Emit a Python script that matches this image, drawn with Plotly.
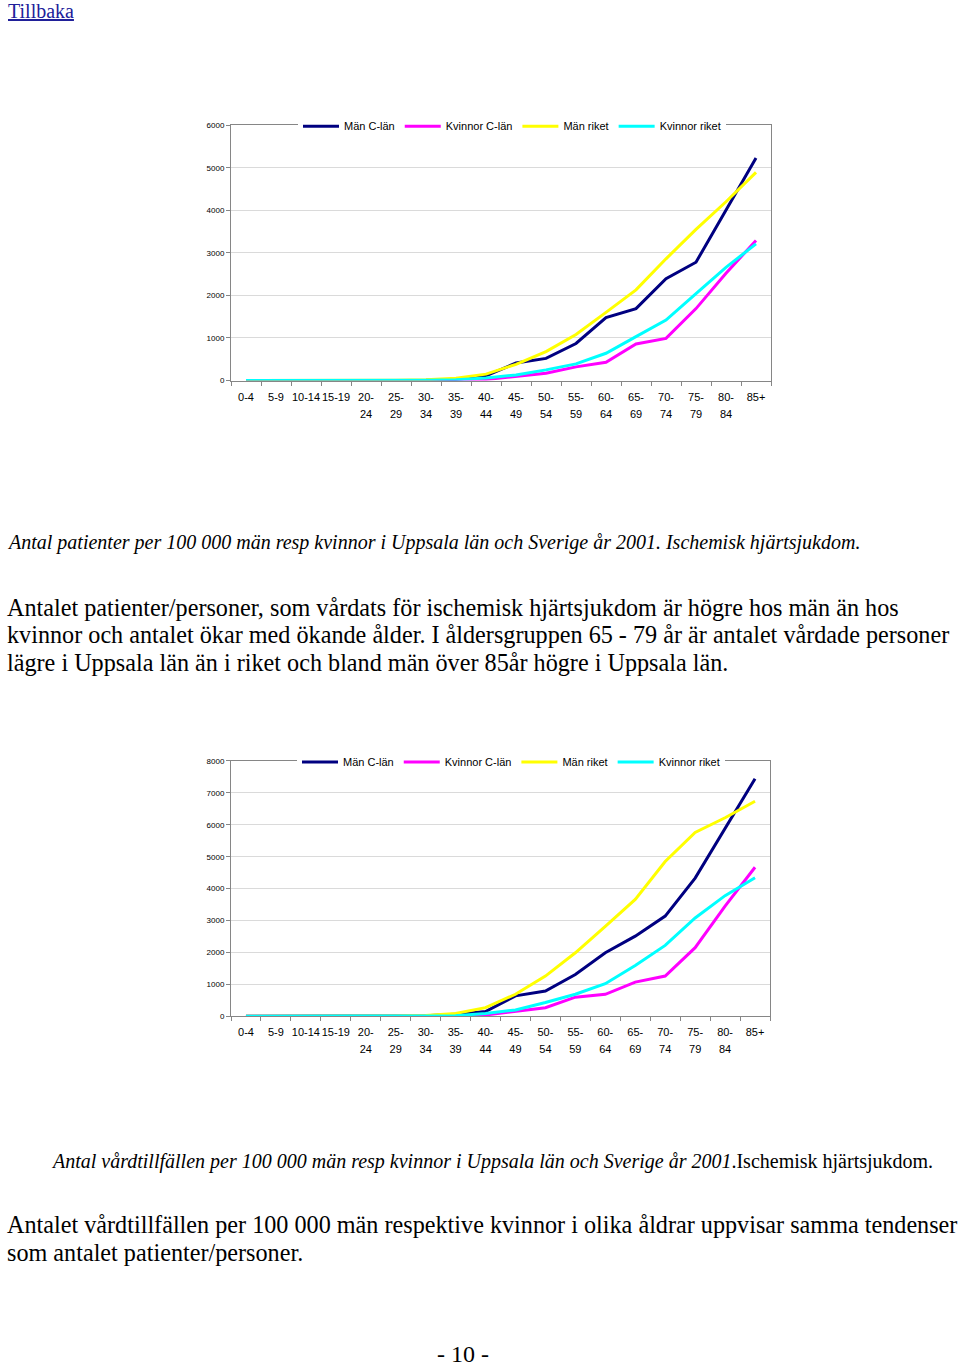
import plotly.graph_objects as go

# ---------------- data ----------------
age_groups = ["0-4", "5-9", "10-14", "15-19", "20-24", "25-29", "30-34", "35-39", "40-44",
              "45-49", "50-54", "55-59", "60-64", "65-69", "70-74", "75-79", "80-84", "85+"]
label_line1 = ["0-4", "5-9", "10-14", "15-19", "20-", "25-", "30-", "35-", "40-",
               "45-", "50-", "55-", "60-", "65-", "70-", "75-", "80-", "85+"]
label_line2 = ["", "", "", "", "24", "29", "34", "39", "44",
               "49", "54", "59", "64", "69", "74", "79", "84", ""]

series_names = ["Män C-län", "Kvinnor C-län", "Män riket", "Kvinnor riket"]
series_colors = ["#000080", "#FF00FF", "#FFFF00", "#00FFFF"]

# Chart 1: patients per 100 000
man_c_pat = [0, 0, 0, 0, 1, 3, 8, 25, 110, 410, 520, 870, 1480, 1690, 2390, 2780, 4000, 5230]
kv_c_pat = [0, 0, 0, 0, 0, 1, 3, 8, 25, 90, 170, 320, 430, 860, 990, 1690, 2520, 3290]
man_r_pat = [0, 0, 0, 1, 3, 8, 20, 55, 150, 380, 680, 1080, 1600, 2130, 2860, 3550, 4200, 4890]
kv_r_pat = [0, 0, 0, 0, 1, 3, 8, 20, 60, 130, 250, 390, 640, 1030, 1420, 2040, 2660, 3210]

# Chart 2: care episodes per 100 000
man_c_vt = [0, 0, 0, 1, 3, 8, 20, 60, 150, 640, 790, 1310, 1990, 2510, 3140, 4330, 5900, 7440]
kv_c_vt = [0, 0, 0, 0, 1, 3, 5, 10, 40, 150, 270, 600, 690, 1070, 1260, 2150, 3450, 4670]
man_r_vt = [0, 0, 1, 3, 6, 12, 25, 90, 270, 690, 1260, 1990, 2820, 3660, 4850, 5760, 6220, 6740]
kv_r_vt = [0, 0, 0, 1, 2, 5, 10, 20, 90, 200, 430, 690, 1020, 1590, 2220, 3080, 3780, 4340]

chart1 = [man_c_pat, kv_c_pat, man_r_pat, kv_r_pat]
chart2 = [man_c_vt, kv_c_vt, man_r_vt, kv_r_vt]

# ---------------- layout helpers ----------------
W, H = 960, 1366
SANS = "Liberation Sans, Arial, sans-serif"
SERIF = "Liberation Serif, Times New Roman, serif"
AXIS_GRAY = "#868686"
GRID = "#DADADA"


def py(px):
    return 1 - px / H


def px_x(px):
    return px / W


fig = go.Figure()

for i, (name, col) in enumerate(zip(series_names, series_colors)):
    fig.add_trace(go.Scatter(x=age_groups, y=chart1[i], name=name, mode="lines",
                             line=dict(color=col, width=3), xaxis="x", yaxis="y",
                             legend="legend", hoverinfo="skip"))
for i, (name, col) in enumerate(zip(series_names, series_colors)):
    fig.add_trace(go.Scatter(x=age_groups, y=chart2[i], name=name, mode="lines",
                             line=dict(color=col, width=3), xaxis="x2", yaxis="y2",
                             legend="legend2", hoverinfo="skip"))

# invisible carriers for the second line of the tick labels
fig.add_trace(go.Scatter(x=age_groups, y=man_c_pat, mode="lines", opacity=0,
                         showlegend=False, hoverinfo="skip", xaxis="x3", yaxis="y"))
fig.add_trace(go.Scatter(x=age_groups, y=man_c_vt, mode="lines", opacity=0,
                         showlegend=False, hoverinfo="skip", xaxis="x4", yaxis="y2"))


def main_xaxis(domain, anchor):
    return dict(domain=domain, anchor=anchor, type="category", categoryorder="array",
                categoryarray=age_groups, range=[-0.5, 17.5], tickmode="array",
                tickvals=age_groups, ticktext=label_line1, tickson="boundaries",
                tickangle=0, ticklabelstandoff=6,
                ticks="outside", ticklen=4, tickcolor=AXIS_GRAY, showline=True,
                linecolor=AXIS_GRAY, linewidth=1, mirror=True, showgrid=False,
                zeroline=False, tickfont=dict(family=SANS, size=11, color="black"),
                fixedrange=True)


def second_xaxis(base, anchor):
    return dict(overlaying=base, anchor=anchor, side="bottom", type="category",
                categoryorder="array", categoryarray=age_groups, range=[-0.5, 17.5],
                tickmode="array", tickvals=age_groups, ticktext=label_line2,
                tickangle=0,
                ticks="outside", ticklen=4, tickcolor="rgba(0,0,0,0)",
                ticklabelstandoff=19, showline=False, showgrid=False, zeroline=False,
                tickfont=dict(family=SANS, size=11, color="black"), fixedrange=True)


def yaxis(domain, anchor, top):
    return dict(domain=domain, anchor=anchor, range=[0, top], dtick=1000, tick0=0,
                tickformat="d", showgrid=True, gridcolor=GRID, gridwidth=1,
                ticks="outside", ticklen=4, tickcolor=AXIS_GRAY, showline=True,
                linecolor=AXIS_GRAY, linewidth=1, mirror=True, zeroline=False,
                tickfont=dict(family=SANS, size=8, color="black"), fixedrange=True)


xdom = [px_x(231), px_x(771)]
xdom2 = [px_x(231), px_x(770)]

legend_common = dict(orientation="h", xanchor="center", yanchor="middle",
                     bgcolor="white", borderwidth=0, itemwidth=36,
                     font=dict(family=SANS, size=11, color="black"))


def note(text, x, y, size, xanchor="left", align="left", color="black"):
    return dict(text=text, x=px_x(x), y=py(y), xref="paper", yref="paper",
                xanchor=xanchor, yanchor="middle", align=align, showarrow=False,
                font=dict(family=SERIF, size=size, color=color))


annotations = [
    note("<u>Tillbaka</u>", 6, 7, 20, color="#20209A"),
    note("<i>Antal patienter per 100 000 män resp kvinnor i Uppsala län och Sverige år 2001. "
         "Ischemisk hjärtsjukdom.</i>", 5, 542, 20),
    note("Antalet patienter/personer, som vårdats för ischemisk hjärtsjukdom är högre hos män än hos",
         5, 607, 24.2),
    note("kvinnor och antalet ökar med ökande ålder. I åldersgruppen 65 - 79 år är antalet vårdade personer",
         5, 635, 24.2),
    note("lägre i Uppsala län än i riket och bland män över 85år högre i Uppsala län.",
         5, 663, 24.2),
    note("<i>Antal vårdtillfällen per 100 000 män resp kvinnor i Uppsala län och Sverige år 2001</i>"
         ".Ischemisk hjärtsjukdom.", 492, 1165, 20, xanchor="center", align="center"),
    note("Antalet vårdtillfällen per 100 000 män respektive kvinnor i olika åldrar uppvisar samma tendenser",
         5, 1229, 24.2),
    note("som antalet patienter/personer.", 5, 1257, 24.2),
    note("- 10 -", 463, 1359, 24, xanchor="center", align="center"),
]

fig.update_layout(
    width=W, height=H, autosize=False,
    margin=dict(l=0, r=0, t=0, b=0),
    paper_bgcolor="white", plot_bgcolor="white",
    xaxis=main_xaxis(xdom, "y"),
    yaxis=yaxis([py(379), py(122)], "x", 6000),
    xaxis2=main_xaxis(xdom2, "y2"),
    yaxis2=yaxis([py(1019), py(762)], "x2", 8000),
    xaxis3=second_xaxis("x", "y"),
    xaxis4=second_xaxis("x2", "y2"),
    legend=dict(x=px_x(512), y=py(123), **legend_common),
    legend2=dict(x=px_x(511), y=py(763), **legend_common),
    annotations=annotations,
    showlegend=True,
)

fig.write_html("out.html")
